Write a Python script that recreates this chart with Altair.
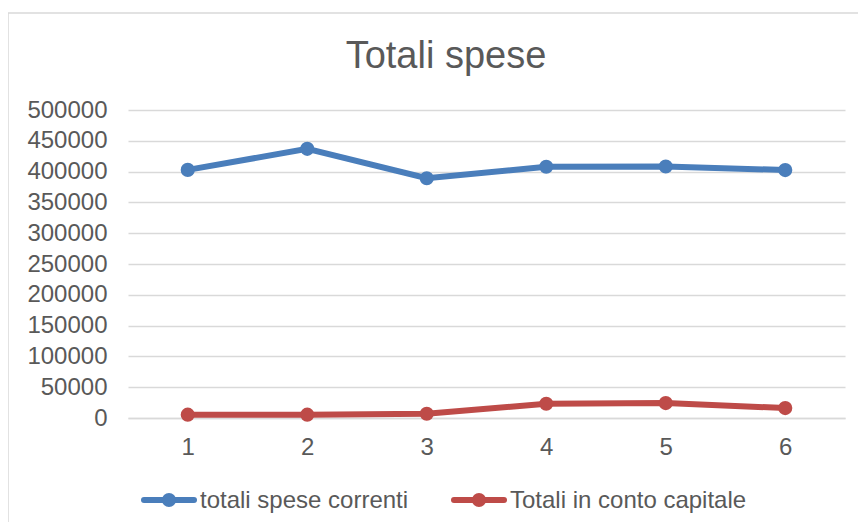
import altair as alt
import pandas as pd

categories = [1, 2, 3, 4, 5, 6]
series_names = ["totali spese correnti", "Totali in conto capitale"]
spese_correnti = [402800, 437000, 389200, 407800, 408300, 402500]
conto_capitale = [5400, 5400, 6900, 23100, 24200, 16100]
colors = ["#4A7EBB", "#BE4B48"]
y_ticks = list(range(0, 500001, 50000))
chart_title = "Totali spese"

rows = []
for c, v in zip(categories, spese_correnti):
    rows.append({"cat": c, "val": v, "serie": series_names[0]})
for c, v in zip(categories, conto_capitale):
    rows.append({"cat": c, "val": v, "serie": series_names[1]})
df = pd.DataFrame(rows)

FONT = "Liberation Sans"
TXT = "#595959"
GRID = "#D9D9D9"

W, H = 717, 308
PAD_L, PAD_T = 120, 102
PAD_R = 850 - PAD_L - W
PAD_B = 514 - PAD_T - H

x_enc = alt.X(
    "cat:O",
    title=None,
    scale=alt.Scale(type="point", padding=0.5),
    axis=alt.Axis(
        labelAngle=0, labelFontSize=24, labelColor=TXT, labelFont=FONT,
        labelPadding=17, ticks=False, domain=True, domainColor=GRID,
        domainWidth=1.5, grid=False,
    ),
)
y_enc = alt.Y(
    "val:Q",
    title=None,
    scale=alt.Scale(domain=[0, 500000], nice=False),
    axis=alt.Axis(
        values=y_ticks, format="d", labelFontSize=24, labelColor=TXT,
        labelFont=FONT, labelPadding=21, ticks=False, domain=False,
        grid=True, gridColor=GRID, gridWidth=1.5,
    ),
)
color_scale = alt.Scale(domain=series_names, range=colors)

border = alt.Chart(pd.DataFrame({"a": [0]})).mark_rect(
    fill=None, stroke=GRID, strokeWidth=1.5
).encode(
    x=alt.value(-120), x2=alt.value(W + 60),
    y=alt.value(-97), y2=alt.value(H + 200),
)

title_mark = alt.Chart(pd.DataFrame({"t": [chart_title]})).mark_text(
    font=FONT, fontSize=38, color=TXT, align="center", baseline="alphabetic"
).encode(
    text="t:N", x=alt.value(318), y=alt.value(-42),
)

lines = alt.Chart(df).mark_line(strokeWidth=6).encode(
    x=x_enc, y=y_enc,
    color=alt.Color("serie:N", scale=color_scale, legend=None),
)

points = alt.Chart(df).mark_point(filled=True, size=200, opacity=1, strokeWidth=0).encode(
    x=x_enc, y=y_enc,
    color=alt.Color("serie:N", scale=color_scale, legend=None),
)

# legend (drawn by hand, Excel style: line with marker, then label)
legend_layers = []
leg_x = [13, 323]
leg_y = 390
for name, col, lx in zip(series_names, colors, leg_x):
    d = pd.DataFrame({"s": [name]})
    legend_layers.append(
        alt.Chart(d).mark_rule(strokeWidth=6, strokeCap="round", color=col).encode(
            x=alt.value(lx + 3), x2=alt.value(lx + 53), y=alt.value(leg_y)
        )
    )
    legend_layers.append(
        alt.Chart(d).mark_point(filled=True, size=200, opacity=1, strokeWidth=0, color=col).encode(
            x=alt.value(lx + 28), y=alt.value(leg_y)
        )
    )
    legend_layers.append(
        alt.Chart(d).mark_text(
            font=FONT, fontSize=24, color=TXT, align="left", baseline="middle"
        ).encode(text="s:N", x=alt.value(lx + 59), y=alt.value(leg_y + 1))
    )

chart = alt.layer(border, title_mark, lines, points, *legend_layers).properties(
    width=W, height=H,
    background="white",
    autosize=alt.AutoSizeParams(type="none"),
    padding={"left": PAD_L, "top": PAD_T, "right": PAD_R, "bottom": PAD_B},
).configure_view(strokeWidth=0, stroke=None)

chart.save("out.html", embed_options={"renderer": "svg", "actions": False})
